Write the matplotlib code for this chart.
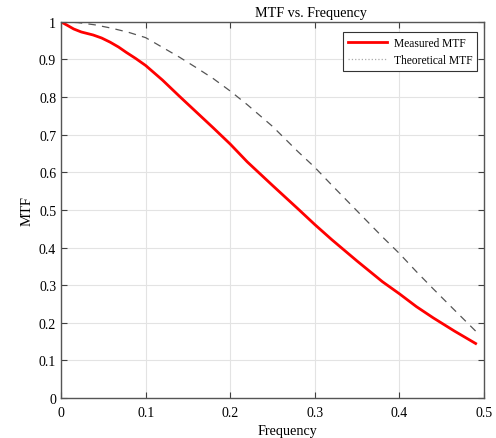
import matplotlib.pyplot as plt
from matplotlib.lines import Line2D
from matplotlib.ticker import FuncFormatter

plt.rcParams['font.family'] = ['Liberation Serif', 'DejaVu Serif']

# measured MTF
freq_meas = [0, 0.008, 0.015, 0.024, 0.038, 0.048, 0.058, 0.068, 0.077, 0.088, 0.10,
             0.12, 0.14, 0.16, 0.18, 0.20, 0.22, 0.25, 0.28, 0.30, 0.32, 0.35, 0.38,
             0.40, 0.42, 0.44, 0.465, 0.49]
mtf_meas = [1.0, 0.99, 0.981, 0.973, 0.965, 0.957, 0.946, 0.933, 0.919, 0.903, 0.884,
            0.845, 0.802, 0.76, 0.718, 0.675, 0.628, 0.565, 0.503, 0.461, 0.421, 0.364,
            0.309, 0.277, 0.243, 0.213, 0.178, 0.145]

# theoretical MTF
freq_theo = [0, 0.02, 0.04, 0.06, 0.08, 0.10, 0.12, 0.14, 0.16, 0.18, 0.20, 0.22, 0.25,
             0.28, 0.30, 0.32, 0.35, 0.38, 0.40, 0.42, 0.44, 0.46, 0.49]
mtf_theo = [1.0, 0.998, 0.992, 0.983, 0.972, 0.958, 0.932, 0.906, 0.878, 0.849, 0.816,
            0.78, 0.722, 0.655, 0.613, 0.566, 0.497, 0.428, 0.384, 0.336, 0.29, 0.245, 0.178]

fig = plt.figure(figsize=(4.96, 4.39), dpi=100)
ax = fig.add_axes([0.123, 0.091, 0.853, 0.857])

ax.plot(freq_meas, mtf_meas, color='red', lw=2.0)
ax.plot(freq_theo, mtf_theo, color='#555555', lw=0.9, dashes=(6, 5))

ax.set_xlim(0, 0.5)
ax.set_ylim(0, 1)
ax.set_xticks([0, 0.1, 0.2, 0.3, 0.4, 0.5])
ax.set_yticks([i / 10 for i in range(11)])
fmt = FuncFormatter(lambda v, p: '%g' % round(v, 2))
ax.xaxis.set_major_formatter(fmt)
ax.yaxis.set_major_formatter(fmt)
ax.tick_params(direction='in', top=True, right=True, labelsize=10,
               color='#404040', length=4, width=0.8)
ax.tick_params(axis='x', pad=6)
ax.grid(True, color='#e3e3e3', lw=0.8)
for s in ax.spines.values():
    s.set_color('#555555')
    s.set_linewidth(1.0)

ax.set_xlabel('Frequency', fontsize=10.2, x=0.535, labelpad=3)
ax.set_ylabel('MTF', fontsize=10.5)
ax.set_title('MTF vs. Frequency', fontsize=10.2, x=0.591, pad=4)

handles = [Line2D([], [], color='red', lw=2.0),
           Line2D([], [], color='#aaaaaa', lw=0.9, ls=':')]
leg = ax.legend(handles, ['Measured MTF', 'Theoretical MTF'], loc='upper right',
                bbox_to_anchor=(0.983, 0.973), borderaxespad=0,
                fontsize=8.3, fancybox=False, framealpha=1, edgecolor='#333333',
                handlelength=3.4, handletextpad=0.6, labelspacing=0.5)
leg.get_frame().set_linewidth(0.8)

fig.savefig('out.png', dpi=100)
